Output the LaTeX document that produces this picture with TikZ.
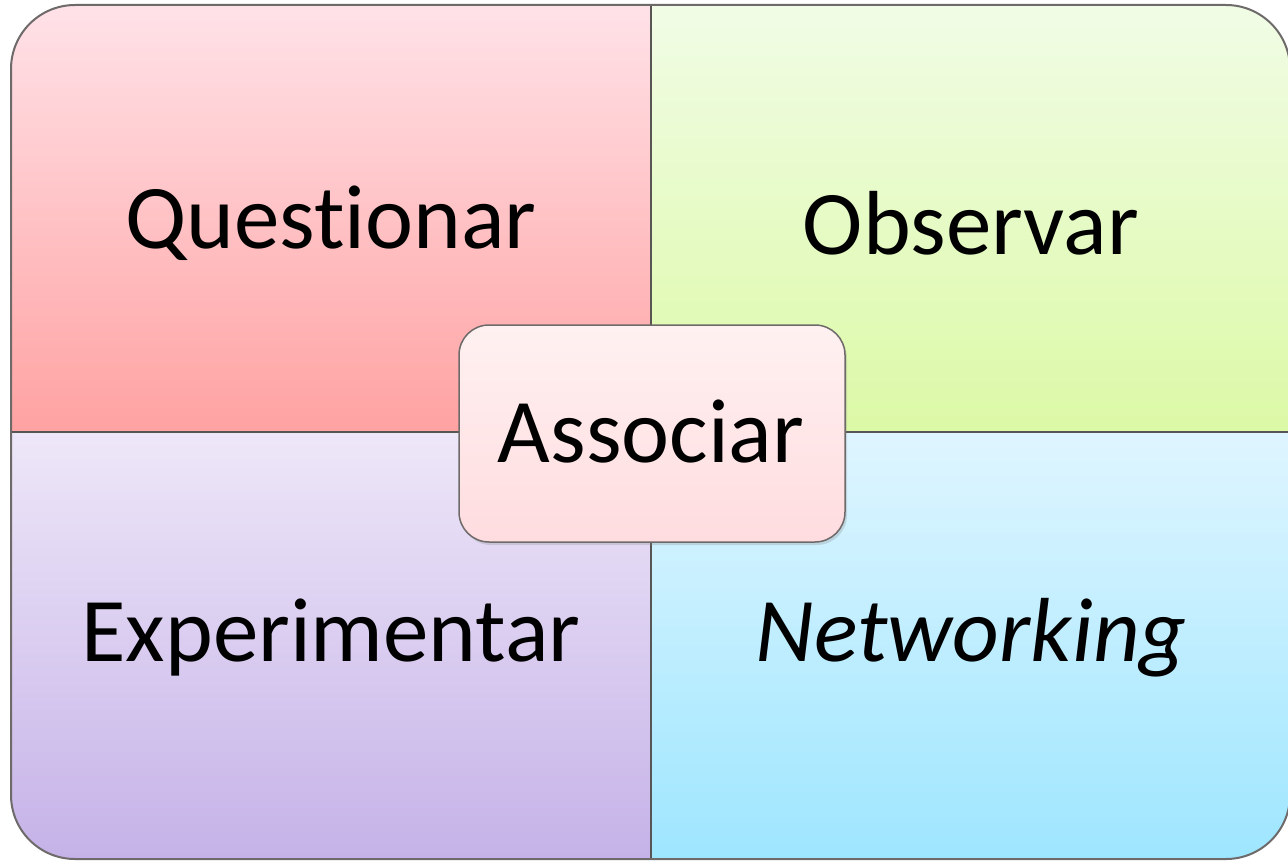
\documentclass[tikz,border=0pt]{standalone}
\usepackage{fontspec}
\setmainfont{Carlito}[Ligatures=NoCommon]
\usetikzlibrary{shadows}
\definecolor{edge}{HTML}{6E6A6A}
\definecolor{qtop}{HTML}{FFE2E8}
\definecolor{qbot}{HTML}{FFA2A2}
\definecolor{otop}{HTML}{F1FCE6}
\definecolor{obot}{HTML}{DCF9A6}
\definecolor{etop}{HTML}{EEE7F8}
\definecolor{ebot}{HTML}{C5B2E8}
\definecolor{ntop}{HTML}{DFF5FF}
\definecolor{nbot}{HTML}{9EE6FF}
\definecolor{atop}{HTML}{FFF1F1}
\definecolor{abot}{HTML}{FFDCDF}
\tikzset{
  label text/.style={font=\fontsize{91}{100}\selectfont, text=black, inner sep=0pt},
  divider/.style={draw=edge!80!black, line width=1.5pt},
}
\begin{document}
\begin{tikzpicture}[x=1pt,y=-1pt]
\useasboundingbox[fill=white] (0,0) rectangle (1288,861);
% quadrants clipped by the outer rounded rectangle
\begin{scope}
  \clip[rounded corners=64pt] (11,5) rectangle (1290,859);
  \shade[top color=qtop, bottom color=qbot] (11,5) rectangle (651,432);
  \shade[top color=otop, bottom color=obot] (651,5) rectangle (1290,432);
  \shade[top color=etop, bottom color=ebot] (11,432) rectangle (651,859);
  \shade[top color=ntop, bottom color=nbot] (651,432) rectangle (1290,859);
\end{scope}
\coordinate (ctop) at (651,5);
\coordinate (cbot) at (651,859);
\coordinate (cleft) at (11,432);
\coordinate (cright) at (1290,432);
\draw[divider] (ctop) -- (cbot);
\draw[divider] (cleft) -- (cright);
\draw[edge, line width=2pt, rounded corners=64pt] (11,5) rectangle (1290,859);
% labels
\node[label text] (q) at (331,223) {Questionar};
\node[label text] (o) at (971,223) {Observar};
\node[label text] (e) at (331,638) {Experimentar};
\node[label text] (n) at (971,638) {\itshape Networking};
% centre box
\shade[top color=atop, bottom color=abot, draw=edge, line width=1.5pt,
  rounded corners=30pt, drop shadow={opacity=0.25, shadow xshift=2pt, shadow yshift=-3pt}]
  (459,325) rectangle (845,542);
\node[label text] (a) at (651,432) {Associar};
\end{tikzpicture}
\end{document}
